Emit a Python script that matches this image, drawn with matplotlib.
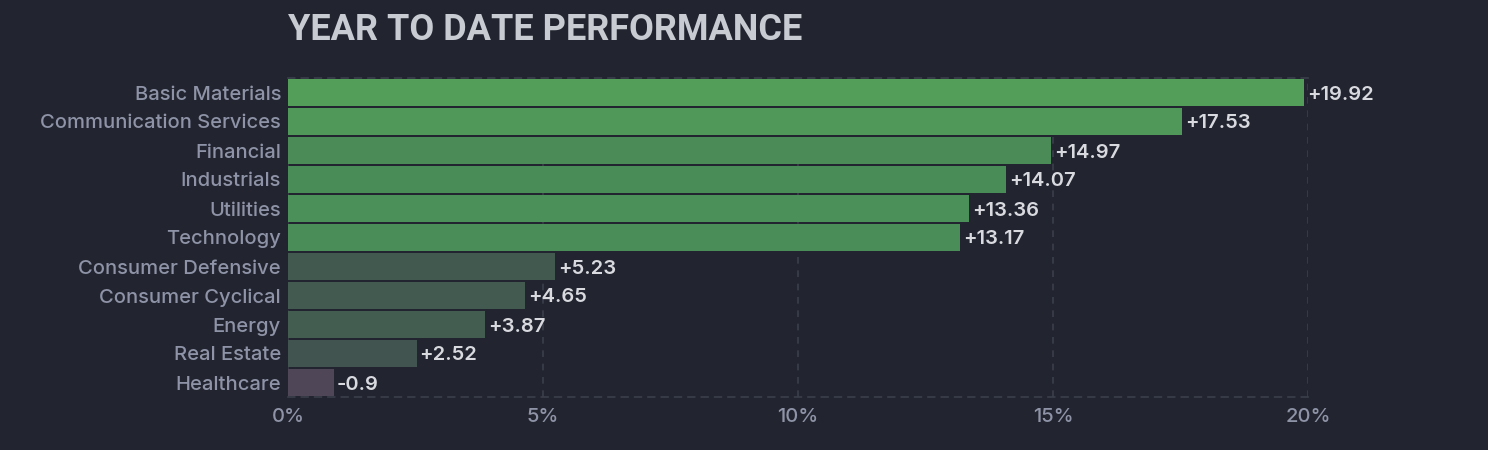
import matplotlib.pyplot as plt

# sectors, top to bottom
sectors = ['Basic Materials', 'Communication Services', 'Financial', 'Industrials',
           'Utilities', 'Technology', 'Consumer Defensive', 'Consumer Cyclical',
           'Energy', 'Real Estate', 'Healthcare']
ytd = [19.92, 17.53, 14.97, 14.07, 13.36, 13.17, 5.23, 4.65, 3.87, 2.52, -0.9]
bar_colors = ['#539f5a', '#50975a', '#4a8b58', '#4a8c58', '#4c9059', '#4b8d58',
              '#42594f', '#425a50', '#435d50', '#42544f', '#4f4657']
xticks = [0, 5, 10, 15, 20]

bg = '#22252f'
grid_col = '#3b3f4b'
tick_col = '#8e93a7'
label_col = '#d9dae0'

plt.rcParams['font.family'] = ['Inter', 'DejaVu Sans']

fig = plt.figure(figsize=(14.88, 4.5), dpi=100, facecolor=bg)
ax = fig.add_axes([288 / 1488, 1 - 397 / 450, 1020 / 1488, 319 / 450])
ax.set_facecolor(bg)

ypos = list(range(len(sectors)))
widths = [abs(v) for v in ytd]
ax.barh(ypos, widths, height=0.9, color=bar_colors, zorder=3)

for y, w, v in zip(ypos, widths, ytd):
    ax.text(w + 0.06, y, f'{v:+g}', va='center_baseline', ha='left', fontsize=14.5,
            fontweight='semibold', color=label_col, zorder=4)

ax.set_xlim(0, 20)
ax.set_ylim(len(sectors) - 0.5, -0.5)
ax.set_xticks(xticks)
ax.set_xticklabels([f'{t}%' for t in xticks], fontweight='medium')
ax.set_yticks(ypos)
ax.set_yticklabels(sectors, fontweight='medium', va='center_baseline')
ax.tick_params(axis='both', length=0, colors=tick_col, labelsize=14.5)
ax.tick_params(axis='y', pad=5)
ax.tick_params(axis='x', pad=8)

ax.grid(axis='x', color=grid_col, linestyle=(0, (4, 4)), linewidth=1.2, zorder=0)
for side in ['left', 'right']:
    ax.spines[side].set_visible(False)
for side in ['top', 'bottom']:
    ax.spines[side].set_color(grid_col)
    ax.spines[side].set_linestyle((0, (4, 4)))
    ax.spines[side].set_linewidth(1.2)

fig.text(288 / 1488, 1 - 30 / 450, 'YEAR TO DATE PERFORMANCE', ha='left', va='center',
         fontsize=26, fontweight='bold', color='#c9cbd3', family=['Roboto', 'DejaVu Sans'])

fig.savefig('out.png', dpi=100, facecolor=bg)
